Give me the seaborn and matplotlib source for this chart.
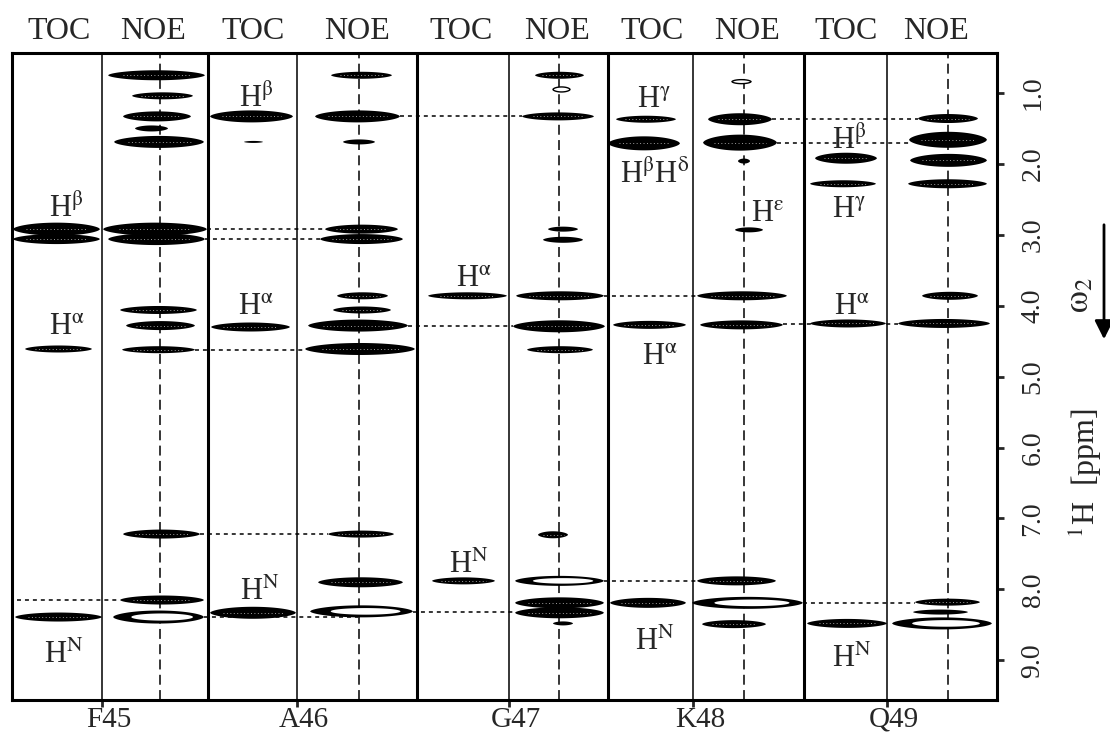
import numpy as np
import pandas as pd
import matplotlib
matplotlib.use("Agg")
import matplotlib.pyplot as plt
from matplotlib.transforms import ScaledTranslation
import seaborn as sns

residues = ["F45", "A46", "G47", "K48", "Q49"]
experiments = ["TOC", "NOE"]
ppm_ticks = [1.0, 2.0, 3.0, 4.0, 5.0, 6.0, 7.0, 8.0, 9.0]

# cross peak shifts (ppm) per strip
f45_toc = [2.92, 3.06, 4.61, 8.39]
f45_noe = [0.75, 1.04, 1.33, 1.50, 1.69, 2.92, 3.06, 4.06, 4.28, 4.62, 7.22, 8.15, 8.39]
a46_toc = [1.33, 1.69, 4.30, 8.33]
a46_noe = [0.75, 1.33, 1.69, 2.92, 3.06, 3.86, 4.06, 4.28, 4.61, 7.22, 7.90, 8.31]
g47_toc = [3.86, 7.88]
g47_noe = [0.75, 0.95, 1.33, 2.92, 3.07, 3.86, 4.29, 4.62, 7.23, 7.88, 8.19, 8.33, 8.48]
k48_toc = [1.37, 1.71, 4.27, 8.19]
k48_noe = [0.84, 1.37, 1.70, 1.96, 2.93, 3.86, 4.27, 7.88, 8.19, 8.49]
q49_toc = [1.92, 2.28, 4.25, 8.48]
q49_noe = [1.36, 1.66, 1.95, 2.28, 3.86, 4.25, 8.18, 8.32, 8.48]

# sequential connectivities (ppm)
link_ppm = [2.92, 3.06, 4.62, 7.22, 8.15, 8.39, 1.33, 4.29, 8.32, 3.86, 7.88, 4.26, 1.37, 1.70, 8.19]

# assignment labels: ppm of baseline, text
label_ppm = [2.75, 4.41, 9.04, 1.20, 4.13, 8.15, 3.74, 7.77,
             1.21, 2.27, 2.82, 4.84, 8.86, 1.78, 2.76, 4.13, 9.10]
label_txt = [r"H$^{\mathrm{β}}$", r"H$^{\mathrm{α}}$", r"H$^{\mathrm{N}}$",
             r"H$^{\mathrm{β}}$", r"H$^{\mathrm{α}}$", r"H$^{\mathrm{N}}$",
             r"H$^{\mathrm{α}}$", r"H$^{\mathrm{N}}$",
             r"H$^{\mathrm{γ}}$", r"H$^{\mathrm{β}}$H$^{\mathrm{δ}}$", r"H$^{\mathrm{ε}}$",
             r"H$^{\mathrm{α}}$", r"H$^{\mathrm{N}}$",
             r"H$^{\mathrm{β}}$", r"H$^{\mathrm{γ}}$", r"H$^{\mathrm{α}}$", r"H$^{\mathrm{N}}$"]

# ---- layout (x in pixel units of the plot box) ----
edges = [12, 208, 417, 608, 804, 997]
split = [102, 297, 509, 693, 887]
noe_mid = [160, 359, 559, 744, 948]
toc_lab_x = [59, 253, 461, 652, 846]
noe_lab_x = [153, 357, 557, 747, 936]
label_x = [66, 67, 64, 256, 256, 260, 474, 469, 654, 655, 768, 660, 655, 849, 849, 852, 852]

# peak drawing: left, right, thickness(px), kind (f filled, h hollow, o open)
f45_toc_s = [(13, 100, 13, "f"), (13, 100, 10, "f"), (25, 92, 7, "f"), (15, 102, 9, "f")]
f45_noe_s = [(108, 205, 10, "f"), (132, 193, 7, "f"), (123, 191, 10, "f"), (135, 168, 6, "f"),
             (114, 204, 12, "f"), (103, 207, 13, "f"), (108, 205, 12, "f"), (120, 197, 8, "f"),
             (126, 195, 9, "f"), (122, 195, 7, "f"), (123, 200, 9, "f"), (120, 204, 9, "f"),
             (113, 204, 13, "h")]
a46_toc_s = [(210, 293, 12, "f"), (244, 263, 2, "f"), (211, 290, 9, "f"), (210, 296, 12, "f")]
a46_noe_s = [(331, 392, 7, "f"), (315, 400, 12, "f"), (343, 375, 5, "f"), (325, 398, 9, "f"),
             (320, 403, 10, "f"), (337, 388, 7, "f"), (333, 391, 7, "f"), (308, 408, 12, "f"),
             (305, 415, 12, "f"), (328, 394, 7, "f"), (318, 403, 10, "f"), (310, 413, 12, "h")]
g47_toc_s = [(428, 507, 7, "f"), (432, 495, 7, "f")]
g47_noe_s = [(535, 584, 7, "f"), (553, 570, 5, "o"), (522, 594, 8, "f"), (548, 578, 5, "f"),
             (543, 583, 6, "f"), (516, 604, 9, "f"), (513, 605, 12, "f"), (527, 593, 7, "f"),
             (538, 568, 7, "f"), (515, 604, 10, "h"), (515, 604, 11, "f"), (515, 604, 11, "f"),
             (553, 573, 4, "f")]
k48_toc_s = [(616, 676, 7, "f"), (608, 680, 14, "f"), (613, 686, 8, "f"), (610, 686, 10, "f")]
k48_noe_s = [(732, 751, 4, "o"), (708, 772, 12, "f"), (703, 777, 16, "f"), (738, 750, 5, "f"),
             (735, 763, 5, "f"), (697, 787, 9, "f"), (700, 783, 9, "f"), (697, 776, 9, "f"),
             (692, 803, 12, "h"), (702, 766, 8, "f")]
q49_toc_s = [(815, 877, 11, "f"), (810, 876, 7, "f"), (810, 886, 8, "f"), (807, 887, 9, "f")]
q49_noe_s = [(918, 978, 9, "f"), (909, 987, 16, "f"), (910, 987, 13, "f"), (908, 987, 9, "f"),
             (922, 978, 8, "f"), (898, 990, 9, "f"), (915, 980, 7, "f"), (913, 968, 5, "f"),
             (892, 992, 12, "h")]
link_x = [(207, 325), (205, 320), (195, 305), (200, 328), (17, 120), (204, 358),
          (400, 522), (408, 513), (413, 515), (604, 697), (604, 697), (783, 898),
          (772, 918), (777, 910), (803, 915)]

strips = [(f45_toc, f45_toc_s), (f45_noe, f45_noe_s), (a46_toc, a46_toc_s), (a46_noe, a46_noe_s),
          (g47_toc, g47_toc_s), (g47_noe, g47_noe_s), (k48_toc, k48_toc_s), (k48_noe, k48_noe_s),
          (q49_toc, q49_toc_s), (q49_noe, q49_noe_s)]
rows = []
for i, (shifts, shapes) in enumerate(strips):
    for p, (xl, xr, th, kind) in zip(shifts, shapes):
        rows.append(dict(residue=residues[i // 2], exp=experiments[i % 2], ppm=p,
                         xl=xl, xr=xr, th=th, kind=kind))
peaks = pd.DataFrame(rows)

links = pd.DataFrame([dict(seg=k, x=x, ppm=p) for k, (p, xs) in enumerate(zip(link_ppm, link_x)) for x in xs])

sns.set_theme(style="ticks")
plt.rcParams["font.family"] = ["Liberation Serif", "DejaVu Serif"]
plt.rcParams["mathtext.fontset"] = "stix"

fig = plt.figure(figsize=(11.1, 7.36), dpi=100)
ax = fig.add_axes([12 / 1110, 36 / 736, 985 / 1110, 647 / 736])
ytop, ybot = 0.436, 9.56
px_per_ppm = 647 / (ybot - ytop)


def lens(xl, xr, y, h, frac=0.6):
    s = np.linspace(-1, 1, 80)
    xc, a = (xl + xr) / 2, (xr - xl) / 2
    f = (1 - s ** 2) ** frac
    xs = np.concatenate([xc + a * s, xc + a * s[::-1]])
    ys = np.concatenate([y - h / 2 * f, (y + h / 2 * f)[::-1]])
    return xs, ys


# strip guides
for x in noe_mid:
    ax.axvline(x, color="black", lw=1.1, ls=(0, (6.5, 3.5)), zorder=1)
for x in split:
    ax.axvline(x, color="black", lw=1.1, zorder=1)
for x in edges[1:-1]:
    ax.axvline(x, color="black", lw=2.2, zorder=1)

sns.lineplot(data=links, x="x", y="ppm", units="seg", estimator=None, sort=False,
             color="black", lw=1.1, linestyle=(0, (2.6, 2.6)), ax=ax, zorder=2)

for r in peaks.itertuples():
    h = r.th / px_per_ppm
    xs, ys = lens(r.xl, r.xr, r.ppm, h)
    if r.kind == "o":
        ax.fill(xs, ys, facecolor="white", edgecolor="black", lw=1.0, zorder=3)
        continue
    ax.fill(xs, ys, color="black", lw=0, zorder=3)
    if r.kind == "h":
        w = r.xr - r.xl
        xi, yi = lens(r.xl + 0.2 * w, r.xr - 0.12 * w, r.ppm, h * 0.55, 0.5)
        ax.fill(xi, yi, color="white", lw=0, zorder=4)
    elif r.th >= 7:
        w = r.xr - r.xl
        ax.plot([r.xl + 0.15 * w, r.xr - 0.15 * w], [r.ppm, r.ppm], color="white",
                lw=0.45, ls=(0, (1.5, 4)), zorder=4)

for x, p, t in zip(label_x, label_ppm, label_txt):
    ax.text(x, p, t, ha="center", va="baseline", fontsize=22)

for x, t in zip(toc_lab_x, ["TOC"] * 5):
    ax.text(x, 0.238, t, ha="center", va="baseline", fontsize=23, clip_on=False)
for x, t in zip(noe_lab_x, ["NOE"] * 5):
    ax.text(x, 0.238, t, ha="center", va="baseline", fontsize=23, clip_on=False)

ax.set_xlim(edges[0], edges[-1])
ax.set_ylim(ybot, ytop)
ax.set_xlabel("")
ax.set_ylabel("")
ax.yaxis.tick_right()
ax.set_yticks(ppm_ticks, labels=[f"{v:.1f}" for v in ppm_ticks])
ax.tick_params(axis="y", direction="out", length=5, width=2, pad=12, labelsize=20)
for lab in ax.get_yticklabels():
    lab.set_rotation(90)
    lab.set_va("center")
ax.set_xticks(split, labels=residues)
ax.tick_params(axis="x", direction="out", length=5, width=2, pad=0, labelsize=21)
for lab in ax.get_xticklabels():
    lab.set_transform(lab.get_transform() + ScaledTranslation(7 / 100, 0, fig.dpi_scale_trans))
for sp in ax.spines.values():
    sp.set_linewidth(2.2)
    sp.set_color("black")

fig.text(1085 / 1110, 1 - 473 / 736, r"$^{1}$H  [ppm]", rotation=90, ha="center", va="center", fontsize=23)
fig.text(1080 / 1110, 1 - 295 / 736, r"$\mathrm{ω}_2$", rotation=90, ha="center", va="center", fontsize=25)
ax.annotate("", xy=(1104, 736 - 342), xytext=(1104, 736 - 222), xycoords="figure pixels",
            textcoords="figure pixels",
            arrowprops=dict(arrowstyle="-|>", lw=2, color="black", mutation_scale=28))

fig.savefig("out.png", dpi=100)
